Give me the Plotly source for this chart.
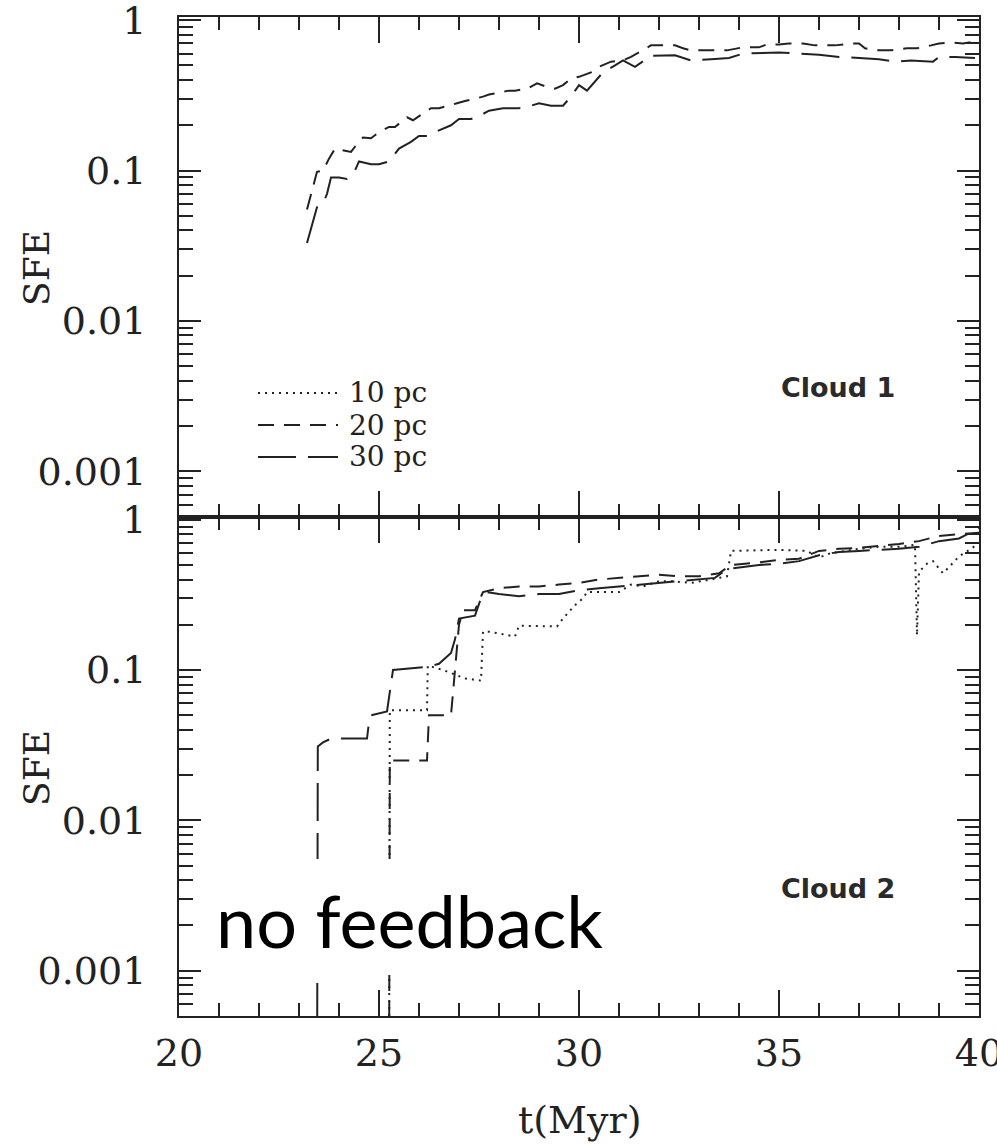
import math
import plotly.graph_objects as go
from plotly.subplots import make_subplots

# ---- Cloud 1 (top panel) ----
c1_t_20 = [23.2, 23.3, 23.45, 23.6, 23.75, 23.9, 24.1, 24.3, 24.45, 24.6, 24.8, 25.0,
           25.25, 25.4, 25.55, 25.7, 25.85, 26.1, 26.3, 26.5, 26.7, 26.95, 27.15, 27.4,
           27.6, 27.75, 28.0, 28.25, 28.4, 28.7, 28.95, 29.2, 29.4, 29.6, 29.8, 30.0,
           30.3, 30.5, 30.8, 31.1, 31.3, 31.5, 31.8, 32.1, 32.4, 32.6, 32.8, 33.7,
           34.1, 34.5, 34.7, 35.0, 35.25, 35.6, 35.9, 36.4, 36.8, 37.0, 37.15, 37.4,
           37.8, 38.2, 38.45, 38.8, 39.0, 39.3, 39.6, 39.9]
c1_sfe_20 = [0.055, 0.07, 0.098, 0.10, 0.12, 0.14, 0.137, 0.133, 0.15, 0.166, 0.164, 0.18,
             0.195, 0.195, 0.21, 0.226, 0.216, 0.24, 0.26, 0.26, 0.27, 0.28, 0.29, 0.30,
             0.31, 0.32, 0.33, 0.34, 0.34, 0.35, 0.38, 0.36, 0.35, 0.37, 0.41, 0.42,
             0.45, 0.49, 0.53, 0.54, 0.57, 0.61, 0.68, 0.68, 0.68, 0.65, 0.63, 0.63,
             0.66, 0.66, 0.69, 0.69, 0.70, 0.70, 0.68, 0.68, 0.70, 0.70, 0.65, 0.63,
             0.63, 0.65, 0.65, 0.68, 0.70, 0.71, 0.70, 0.72]

c1_t_30 = [23.2, 23.45, 23.6, 23.7, 23.8, 24.0, 24.2, 24.4, 24.5, 24.8, 25.0, 25.25,
           25.5, 25.8, 26.0, 26.2, 26.5, 26.8, 27.0, 27.3, 27.5, 27.75, 28.1, 28.5,
           28.8, 29.0, 29.3, 29.6, 29.8, 30.0, 30.2, 30.5, 30.6, 30.9, 31.1, 31.4,
           31.6, 31.8, 32.4, 32.6, 32.8, 33.3, 33.75, 34.1, 35.0, 35.5, 36.0, 36.5,
           37.0, 37.5, 37.9, 38.3, 38.85, 39.0, 39.4, 39.9]
c1_sfe_30 = [0.033, 0.057, 0.06, 0.07, 0.09, 0.09, 0.088, 0.10, 0.115, 0.11, 0.11, 0.115,
             0.14, 0.155, 0.17, 0.17, 0.185, 0.20, 0.22, 0.22, 0.23, 0.25, 0.26, 0.26,
             0.27, 0.28, 0.27, 0.27, 0.31, 0.37, 0.34, 0.42, 0.45, 0.50, 0.54, 0.49,
             0.53, 0.58, 0.585, 0.56, 0.54, 0.55, 0.56, 0.60, 0.61, 0.60, 0.59, 0.57,
             0.56, 0.55, 0.53, 0.54, 0.53, 0.57, 0.57, 0.56]

# ---- Cloud 2 (bottom panel); 1e-4 marks values below the plotted range ----
c2_t_10 = [25.25, 25.27, 26.2, 26.22, 26.6, 26.95, 27.15, 27.55, 27.6, 27.75, 28.4, 28.5,
           29.45, 29.6, 29.9, 30.1, 30.2, 31.0, 31.3, 31.6, 32.0, 32.3, 32.8, 33.3,
           33.7, 33.8, 34.5, 35.0, 35.7, 36.0, 36.3, 37.0, 37.5, 38.0, 38.4, 38.45,
           38.5, 38.7, 38.85, 39.1, 39.3, 39.5, 39.8, 40.0]
c2_sfe_10 = [1e-4, 0.054, 0.054, 0.107, 0.10, 0.092, 0.088, 0.085, 0.18, 0.18, 0.167, 0.197,
             0.195, 0.22, 0.27, 0.30, 0.33, 0.33, 0.37, 0.36, 0.39, 0.39, 0.38, 0.40,
             0.42, 0.62, 0.63, 0.63, 0.62, 0.56, 0.60, 0.64, 0.66, 0.66, 0.68, 0.17,
             0.45, 0.51, 0.53, 0.44, 0.50, 0.57, 0.64, 0.70]

c2_t_20 = [25.25, 25.27, 26.2, 26.25, 26.8, 26.9, 27.0, 27.1, 27.4, 27.6, 28.0, 28.5,
           29.0, 29.5, 30.0, 30.5, 31.0, 31.5, 32.0, 32.5, 33.0, 33.5, 33.8, 34.5,
           35.0, 35.5, 36.0, 36.5, 37.0, 37.5, 38.0, 38.5, 39.0, 39.5, 40.0]
c2_sfe_20 = [1e-4, 0.025, 0.025, 0.05, 0.05, 0.10, 0.20, 0.25, 0.25, 0.33, 0.35, 0.36,
             0.36, 0.37, 0.38, 0.40, 0.41, 0.42, 0.43, 0.42, 0.42, 0.44, 0.50, 0.52,
             0.54, 0.55, 0.62, 0.64, 0.65, 0.67, 0.69, 0.72, 0.78, 0.80, 0.82]

c2_t_30 = [23.45, 23.47, 23.6, 23.8, 24.7, 24.75, 24.8, 25.2, 25.35, 26.2, 26.5, 26.8,
           26.9, 27.0, 27.4, 27.55, 27.7, 28.0, 28.5, 29.0, 29.5, 30.0, 30.5, 31.0,
           31.5, 32.0, 32.5, 33.0, 33.4, 33.7, 34.0, 34.5, 35.0, 35.5, 36.0, 36.5,
           37.0, 37.5, 38.0, 38.5, 39.0, 39.5, 40.0]
c2_sfe_30 = [1e-4, 0.031, 0.033, 0.035, 0.035, 0.045, 0.05, 0.053, 0.10, 0.105, 0.11, 0.13,
             0.16, 0.22, 0.23, 0.30, 0.33, 0.32, 0.31, 0.32, 0.32, 0.34, 0.35, 0.36,
             0.37, 0.38, 0.39, 0.40, 0.41, 0.47, 0.48, 0.50, 0.51, 0.53, 0.58, 0.61,
             0.62, 0.63, 0.64, 0.66, 0.72, 0.75, 0.88]

series_names = ["10 pc", "20 pc", "30 pc"]
x_ticks = [20, 25, 30, 35, 40]
y_ticks = [0.001, 0.01, 0.1, 1]
y_ticktext = ["0.001", "0.01", "0.1", "1"]

# ---- page geometry (pixels) ----
W, H = 997, 1147
ML, MR, MT, MB = 179, 18, 17, 131
PW, PH = W - ML - MR, H - MT - MB


def px(xp):
    return (xp - ML) / PW


def py(yp):
    return (H - MB - yp) / PH


INK = "#222222"
SERIF = "DejaVu Serif"
dashes = {"10 pc": "2px,5px", "20 pc": "16px,10px", "30 pc": "38px,12px"}

fig = make_subplots(rows=2, cols=1, vertical_spacing=0)

panels = [
    (1, [("20 pc", c1_t_20, c1_sfe_20), ("30 pc", c1_t_30, c1_sfe_30)]),
    (2, [("10 pc", c2_t_10, c2_sfe_10), ("20 pc", c2_t_20, c2_sfe_20),
         ("30 pc", c2_t_30, c2_sfe_30)]),
]
for row, curves in panels:
    for name, t, s in curves:
        fig.add_trace(go.Scatter(x=t, y=s, mode="lines", name=name, showlegend=False,
                                 line=dict(color=INK, width=2, dash=dashes[name])),
                      row=row, col=1)

minor_x = [v for v in range(21, 40) if v % 5]
minor_y = [k * 10.0 ** e for e in range(-4, 0) for k in range(2, 10)]

for row in (1, 2):
    fig.update_xaxes(range=[20, 40], tickmode="array", tickvals=x_ticks,
                     ticks="inside", ticklen=26, tickwidth=2, tickcolor=INK,
                     minor=dict(tickmode="array", tickvals=minor_x, ticks="inside",
                                ticklen=13, tickwidth=2, tickcolor=INK),
                     showline=True, linewidth=2, linecolor=INK, mirror="allticks",
                     showgrid=False, zeroline=False, automargin=False,
                     showticklabels=(row == 2), ticklabelstandoff=2,
                     ticklabeloverflow="allow",
                     tickfont=dict(family=SERIF, size=38, color=INK),
                     row=row, col=1)
    fig.update_yaxes(type="log", range=[math.log10(5e-4), math.log10(1.05)],
                     tickmode="array", tickvals=y_ticks, ticktext=y_ticktext,
                     ticks="inside", ticklen=22, tickwidth=2, tickcolor=INK,
                     minor=dict(tickmode="array", tickvals=minor_y, ticks="inside",
                                ticklen=14, tickwidth=2, tickcolor=INK),
                     showline=True, linewidth=2, linecolor=INK, mirror="allticks",
                     showgrid=False, zeroline=False, automargin=False,
                     ticklabelstandoff=23, ticklabeloverflow="allow",
                     tickfont=dict(family=SERIF, size=38, color=INK),
                     row=row, col=1)

shapes = []
annotations = []

# legend block in the upper panel
legend_rows = [(393, "10 pc"), (425, "20 pc"), (457, "30 pc")]
for yp, name in legend_rows:
    shapes.append(dict(type="line", xref="paper", yref="paper",
                       x0=px(258), x1=px(338), y0=py(yp), y1=py(yp),
                       line=dict(color=INK, width=2, dash=dashes[name])))
    annotations.append(dict(text=name, xref="paper", yref="paper", x=px(347), y=py(yp),
                            xanchor="left", yanchor="middle", showarrow=False,
                            font=dict(family=SERIF, size=28, color=INK)))

# panel labels
for yp, label in [(388, "Cloud 1"), (888, "Cloud 2")]:
    annotations.append(dict(text=label, xref="paper", yref="paper", x=px(838), y=py(yp),
                            xanchor="center", yanchor="middle", showarrow=False,
                            font=dict(family="DejaVu Sans", size=27, color="#2a2a2a",
                                      weight=600)))

# axis titles
for yp in (268, 768):
    annotations.append(dict(text="SFE", xref="paper", yref="paper", x=px(36), y=py(yp),
                            xanchor="center", yanchor="middle", textangle=-90,
                            showarrow=False, font=dict(family=SERIF, size=36, color=INK)))
annotations.append(dict(text="t(Myr)", xref="paper", yref="paper", x=px(579), y=py(1120),
                        xanchor="center", yanchor="middle", showarrow=False,
                        font=dict(family=SERIF, size=38, color=INK)))

# "no feedback" caption on a white patch
shapes.append(dict(type="rect", xref="paper", yref="paper", layer="above",
                   x0=px(203), x1=px(620), y0=py(975), y1=py(859),
                   fillcolor="white", line=dict(width=0)))
annotations.append(dict(text="no feedback", xref="paper", yref="paper", x=px(214), y=py(920),
                        xanchor="left", yanchor="middle", showarrow=False,
                        font=dict(family="Lato", size=72, color="black")))

fig.update_layout(width=W, height=H,
                  margin=dict(l=ML, r=MR, t=MT, b=MB, pad=0, autoexpand=False),
                  paper_bgcolor="white", plot_bgcolor="white",
                  shapes=shapes, annotations=annotations, showlegend=False)

fig.write_html("out.html")
